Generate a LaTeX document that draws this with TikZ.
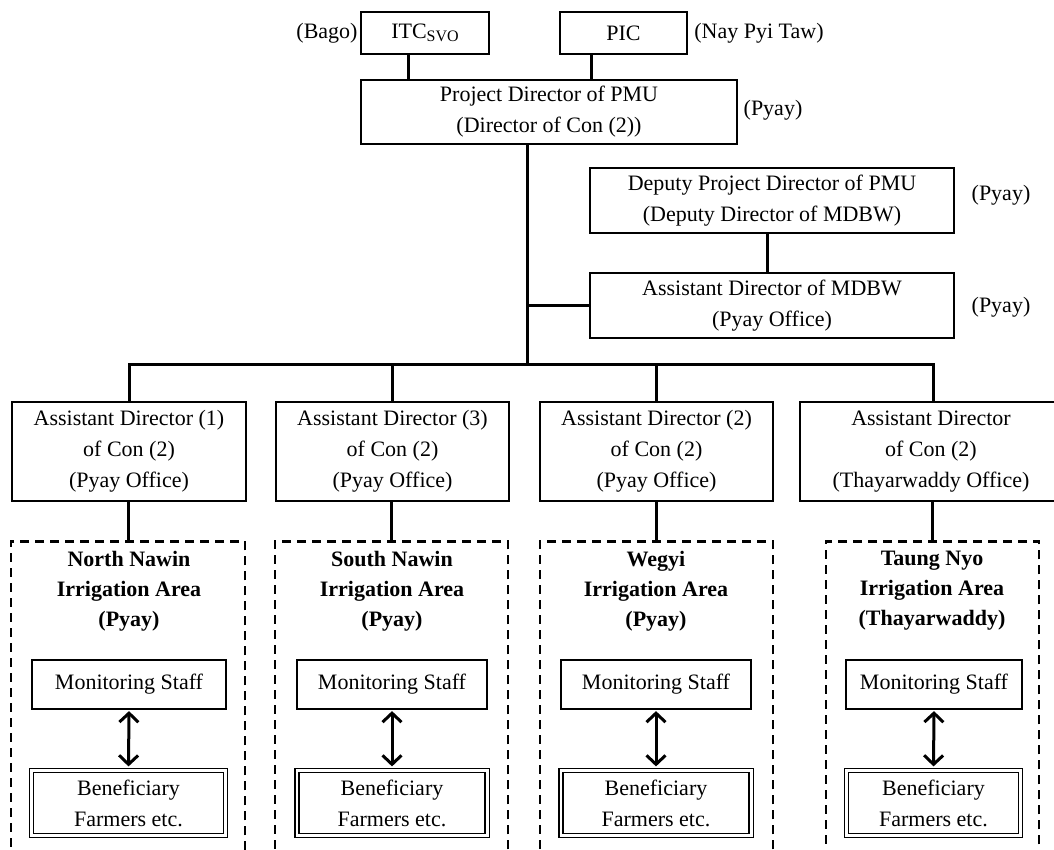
\documentclass[tikz,border=0pt]{standalone}
\usepackage{fontspec}
\setmainfont{Liberation Serif}
\usetikzlibrary{arrows.meta,calc}
\begin{document}
\begin{tikzpicture}[x=1pt,y=-1pt,
  font=\fontsize{22}{31}\selectfont,
  box/.style={draw,line width=1.2pt,align=center,inner sep=0pt,anchor=center},
  conn/.style={line width=3pt},
  area/.style={draw,line width=2.8pt,dash pattern=on 9pt off 6pt,inner sep=0pt,anchor=north},
  title/.style={align=center,font=\fontsize{22}{30}\selectfont\bfseries,inner sep=0pt},
  lbl/.style={inner sep=0pt},
  outer/.style={line width=1.2pt},
  twoway/.style={line width=3pt,shorten <=1.5pt,shorten >=1.5pt,{Straight Barb[length=9pt,width=19pt,line width=3pt]}-{Straight Barb[length=9pt,width=19pt,line width=3pt]}}
]
\useasboundingbox (0,0) rectangle (1054,850);
\clip (0,0) rectangle (1054,850);

% top
\node[box,minimum width=128pt,minimum height=42pt] (itc) at (425,33) {ITC\raisebox{-0.3ex}{\fontsize{16}{16}\selectfont SVO}};
\node[box,minimum width=127pt,minimum height=42pt] (pic) at (623.5,33) {PIC};
\node[lbl] (bago) at (327,33) {(Bago)};
\node[lbl] (npt) at (759,33) {(Nay Pyi Taw)};
\node[box,minimum width=376pt,minimum height=64pt] (pd) at (549,112) {Project Director of PMU\\(Director of Con (2))};
\node[lbl] (pdl) at (773,110) {(Pyay)};

\node[box,minimum width=364pt,minimum height=65pt] (dep) at (772,200.5) {Deputy Project Director of PMU\\(Deputy Director of MDBW)};
\node[lbl] (depl) at (1001,195) {(Pyay)};
\node[box,minimum width=364pt,minimum height=65pt] (amd) at (772,305.5) {Assistant Director of MDBW\\(Pyay Office)};
\node[lbl] (amdl) at (1001,307) {(Pyay)};

% assistant directors
\node[box,minimum width=234pt,minimum height=99pt] (ad1) at (129,451.5) {Assistant Director (1)\\of Con (2)\\(Pyay Office)};
\node[box,minimum width=233pt,minimum height=99pt] (ad2) at (392.5,451.5) {Assistant Director (3)\\of Con (2)\\(Pyay Office)};
\node[box,minimum width=233pt,minimum height=99pt] (ad3) at (656.5,451.5) {Assistant Director (2)\\of Con (2)\\(Pyay Office)};
\node[box,minimum width=262pt,minimum height=99pt] (ad4) at (931,451.5) {Assistant Director\\of Con (2)\\(Thayarwaddy Office)};

% areas
\node[area,minimum width=234pt,minimum height=360pt] (ar1) at (128,540) {};
\node[area,minimum width=233pt,minimum height=360pt] (ar2) at (391.5,540) {};
\node[area,minimum width=233pt,minimum height=360pt] (ar3) at (656.5,540) {};
\node[area,minimum width=213pt,minimum height=360pt] (ar4) at (932.5,540) {};

\node[title] (t1) at (129,591) {North Nawin\\Irrigation Area\\(Pyay)};
\node[title] (t2) at (392,591) {South Nawin\\Irrigation Area\\(Pyay)};
\node[title] (t3) at (656,591) {Wegyi\\Irrigation Area\\(Pyay)};
\node[title] (t4) at (932,591) {Taung Nyo\\Irrigation Area\\(Thayarwaddy)};

\node[box,minimum width=194pt,minimum height=49pt] (ms1) at (129,684.5) {Monitoring Staff};
\node[box,minimum width=190pt,minimum height=49pt] (ms2) at (392,684.5) {Monitoring Staff};
\node[box,minimum width=190pt,minimum height=49pt] (ms3) at (656,684.5) {Monitoring Staff};
\node[box,minimum width=176pt,minimum height=49pt] (ms4) at (934,684.5) {Monitoring Staff};

\node[box,minimum width=190pt,minimum height=61pt] (bf1) at (128.5,803) {Beneficiary\\Farmers etc.};
\node[box,minimum width=186pt,minimum height=61pt] (bf2) at (392,803) {Beneficiary\\Farmers etc.};
\node[box,minimum width=186pt,minimum height=61pt] (bf3) at (656,803) {Beneficiary\\Farmers etc.};
\node[box,minimum width=170pt,minimum height=61pt] (bf4) at (933.5,803) {Beneficiary\\Farmers etc.};
\foreach \i in {1,2,3,4}{
  \draw[outer] ([shift={(-3.5,-3.5)}]bf\i.north west) rectangle ([shift={(3.5,3.5)}]bf\i.south east);
}

% connectors
\draw[conn] ([xshift=-17pt]itc.south) -- ([xshift=-17pt]itc.south |- pd.north);
\draw[conn] ([xshift=-32.5pt]pic.south) -- ([xshift=-32.5pt]pic.south |- pd.north);
\coordinate (bar) at ([xshift=-22pt]pd.south |- 0,364);
\draw[conn] ([xshift=-22pt]pd.south) -- (bar);
\draw[conn] (amd.west) -- (amd.west -| bar);
\draw[conn] ([xshift=-5pt]dep.south) -- ([xshift=-5pt]amd.north);
\draw[conn] (ad1.north) -- (ad1.north |- bar) -- ([xshift=2pt]ad4.north |- bar) -- ([xshift=2pt]ad4.north);
\draw[conn] (ad2.north) -- (ad2.north |- bar);
\draw[conn] (ad3.north) -- (ad3.north |- bar);
\foreach \i in {1,2,3,4}{
  \draw[conn] (ad\i.south -| ar\i.north) -- (ar\i.north);
  \draw[twoway] (ms\i.south) -- ([yshift=4pt]bf\i.north);
}
\end{tikzpicture}
\end{document}
